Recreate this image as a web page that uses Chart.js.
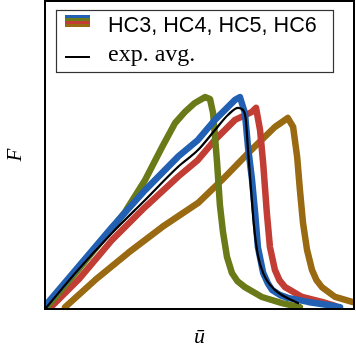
<!DOCTYPE html>
<html><head><meta charset="utf-8">
<script src="https://cdn.jsdelivr.net/npm/chart.js@4"></script>
<style>html,body{margin:0;padding:0;background:#fff}canvas{display:block}</style>
</head><body>
<canvas id="c" width="356" height="353" style="width:356px;height:353px"></canvas>
<script>
// values (u: 0..100 across the frame, F: 0..100 up the frame)
const hc3U = [0,10.7,21.7,32.4,43.0,49.5,55.0,61.5,63.1,64.7,65.7,67.0,68.0,68.9,70.6,72.1,73.5,76.1,78.6,85.1,91.6,95.5];
const hc3F = [1.0,13.6,26.6,38.6,49.4,54.9,61.4,67.9,68.8,63.6,52.6,41.9,31.2,20.1,11.7,8.4,6.2,4.5,3.6,2.3,1.3,0.6];
const hc4U = [0.65,10.7,20.4,25.9,32.4,37.9,42.1,45.3,48.5,51.8,53.4,54.4,55.7,56.6,57.6,58.9,60.5,62.3,64.7,70.2,76.7,82.5];
const hc4F = [0.65,12.7,24.7,31.5,41.9,52.6,60.4,64.0,66.9,68.8,68.2,63.6,47.4,33.8,25.0,16.9,11.7,9.0,7.1,3.9,1.9,0.6];
const hc5U = [1.6,10.7,21.7,32.4,43.0,49.5,55.0,61.5,67.0,68.3,69.6,70.6,71.8,72.8,74.4,75.9,77.7,83.2,89.6,93.9];
const hc5F = [0.3,9.4,22.4,33.1,42.9,48.4,54.9,61.4,64.0,65.3,58.1,47.4,31.2,20.1,12.7,9.3,7.1,3.9,2.3,1.0];
const hc6U = [6.5,16.2,26.9,37.9,49.5,57.3,65.7,74.4,78.6,80.3,81.6,82.5,83.5,84.8,86.4,87.9,89.6,93.9,99.4];
const hc6F = [0.6,9.4,18.2,26.6,34.4,41.9,50.6,59.1,62.0,59.1,49.4,38.6,27.9,19.2,12.7,9.3,7.1,3.9,2.3];
const expU = [0,10.7,21.7,32.4,43.0,49.5,55.0,59.2,62.5,64.1,65.0,65.7,66.7,67.6,68.9,70.9,74.4,81.9];
const expF = [0,12.7,24.7,35.4,46.1,51.6,58.1,63.0,65.3,64.6,61.4,51.6,38.6,27.3,17.5,11.0,6.2,1.9];
const legendLabels = ["HC3, HC4, HC5, HC6", "exp. avg."];
const colors = {hc3:'#2160b2', hc4:'#6a7a18', hc5:'#c23d33', hc6:'#9a6a12'};

const pts = (xs, ys) => xs.map((x, i) => ({x, y: ys[i]}));

const framePlugin = {
  id: 'frame',
  afterDraw(chart) {
    const {ctx, chartArea: a} = chart;
    ctx.save();
    ctx.strokeStyle = '#000';
    ctx.lineWidth = 2;
    ctx.strokeRect(a.left, a.top, a.right - a.left, a.bottom - a.top);
    // axis titles
    ctx.fillStyle = '#000';
    ctx.textAlign = 'center';
    ctx.textBaseline = 'middle';
    ctx.font = 'italic 22px "Liberation Serif"';
    ctx.fillText('\u016B', (a.left + a.right) / 2, 337);
    ctx.font = 'italic 21px "Liberation Serif"';
    ctx.translate(15, 155);
    ctx.rotate(-Math.PI / 2);
    ctx.fillText('F', 0, 0);
    ctx.restore();
    // legend
    ctx.save();
    ctx.fillStyle = '#fff';
    ctx.fillRect(56, 10, 277, 62);
    ctx.strokeStyle = '#333';
    ctx.lineWidth = 1.2;
    ctx.strokeRect(56.5, 10.5, 277, 62);
    const stripes = [colors.hc3, colors.hc4, colors.hc5, colors.hc6];
    stripes.forEach((c, i) => { ctx.fillStyle = c; ctx.fillRect(65, 15 + i * 3, 25, 3); });
    ctx.fillStyle = '#000';
    ctx.fillRect(65, 56, 25, 2);
    ctx.textAlign = 'left';
    ctx.textBaseline = 'middle';
    ctx.font = '21.6px "Liberation Sans"';
    ctx.fillText(legendLabels[0], 108, 26);
    ctx.font = '24px "Liberation Serif"';
    ctx.fillText(legendLabels[1], 108, 55);
    ctx.restore();
  }
};

new Chart(document.getElementById('c'), {
  type: 'line',
  data: {
    datasets: [
      {label: 'exp. avg.', data: pts(expU, expF), borderColor: '#000', borderWidth: 2.2, cubicInterpolationMode: 'monotone'},
      {label: 'HC3', data: pts(hc3U, hc3F), borderColor: colors.hc3, borderWidth: 6.5},
      {label: 'HC4', data: pts(hc4U, hc4F), borderColor: colors.hc4, borderWidth: 6.5},
      {label: 'HC5', data: pts(hc5U, hc5F), borderColor: colors.hc5, borderWidth: 6.5},
      {label: 'HC6', data: pts(hc6U, hc6F), borderColor: colors.hc6, borderWidth: 6.5}
    ]
  },
  options: {
    responsive: false,
    animation: false,
    devicePixelRatio: 1,
    elements: {point: {radius: 0}, line: {borderJoinStyle: 'round', borderCapStyle: 'round'}},
    layout: {padding: {left: 45, right: 2, top: 1, bottom: 44}},
    plugins: {legend: {display: false}, tooltip: {enabled: false}},
    scales: {
      x: {type: 'linear', min: 0, max: 100, display: false},
      y: {type: 'linear', min: 0, max: 100, display: false}
    }
  },
  plugins: [framePlugin]
});
</script>
</body></html>
